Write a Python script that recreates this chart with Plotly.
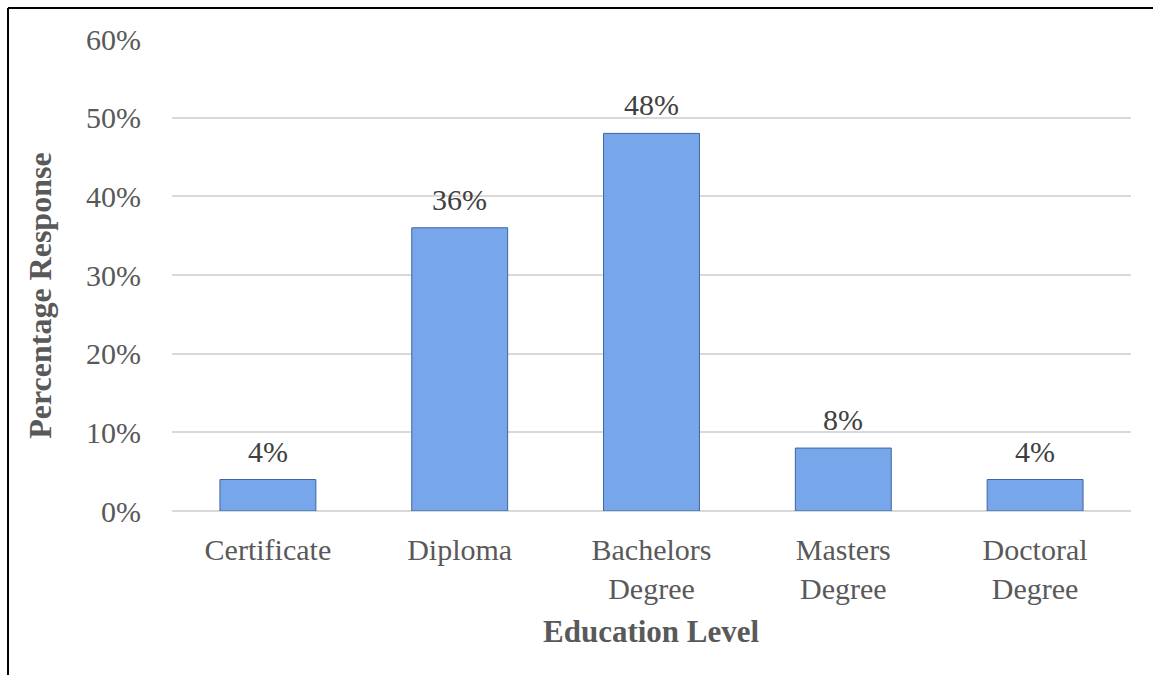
import plotly.graph_objects as go

categories = ["Certificate", "Diploma", "Bachelors<br>Degree", "Masters<br>Degree", "Doctoral<br>Degree"]
values = [0.04, 0.36, 0.48, 0.08, 0.04]
labels = ["4%", "36%", "48%", "8%", "4%"]
y_ticks = [0, 0.1, 0.2, 0.3, 0.4, 0.5, 0.6]
y_tick_text = ["0%", "10%", "20%", "30%", "40%", "50%", "60%"]

FONT = "Liberation Serif, Times New Roman, serif"

fig = go.Figure()
fig.add_trace(go.Bar(
    x=categories, y=values, width=0.5,
    marker=dict(color="#77a7ea", line=dict(color="#3d659e", width=1)),
    hoverinfo="skip",
))

for c, v, t in zip(categories, values, labels):
    fig.add_annotation(x=c, y=v, text=t, showarrow=False, yanchor="bottom",
                       yshift=10, font=dict(family=FONT, size=30, color="#404040"))

fig.add_annotation(xref="paper", yref="paper", x=0.5, y=-0.256, text="<b>Education Level</b>",
                   showarrow=False, yanchor="middle",
                   font=dict(family=FONT, size=31, color="#595959"))
fig.add_annotation(xref="paper", yref="paper", x=-0.137, y=0.455, text="<b>Percentage Response</b>",
                   showarrow=False, textangle=-90, xanchor="center", yanchor="middle",
                   font=dict(family=FONT, size=32, color="#595959"))

# frame lines (top and left)
fig.add_shape(type="line", xref="paper", yref="paper", x0=-0.171, x1=1.03, y0=1.0657, y1=1.0657,
              line=dict(color="black", width=2))
fig.add_shape(type="line", xref="paper", yref="paper", x0=-0.171, x1=-0.171, y0=1.0657, y1=-0.36,
              line=dict(color="black", width=2))

fig.update_layout(
    width=1153, height=675,
    margin=dict(l=172, r=22, t=39, b=164),
    paper_bgcolor="white", plot_bgcolor="white",
    showlegend=False,
    bargap=0.5,
    font=dict(family=FONT, size=30, color="#595959"),
    xaxis=dict(showgrid=False, showline=False, ticks="", tickfont=dict(size=30, color="#595959"),
               ticklabelstandoff=18),
    yaxis=dict(range=[0, 0.6], tickvals=y_ticks, ticktext=y_tick_text, showgrid=True,
               gridcolor="#d9d9d9", gridwidth=1.5, zeroline=True, zerolinecolor="#d9d9d9",
               zerolinewidth=1.5, showline=False, ticks="", ticklabelstandoff=30,
               tickfont=dict(size=30, color="#595959")),
)

fig.write_html("out.html")
